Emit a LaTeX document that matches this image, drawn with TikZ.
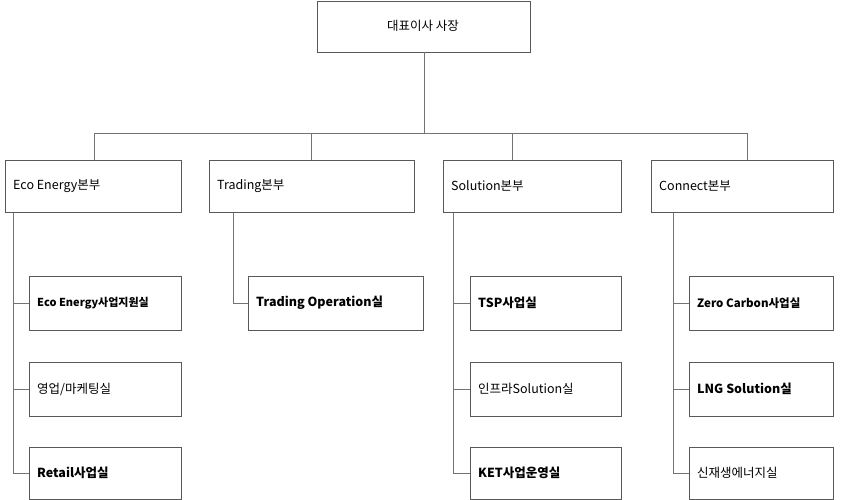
\documentclass[tikz,border=0pt]{standalone}
\usepackage{fontspec}
\setmainfont{Noto Sans CJK KR}
\begin{document}
\begin{tikzpicture}[x=1pt,y=-1pt,
  box/.style={draw=black!65,line width=0.5pt,fill=white},
  lbl/.style={anchor=west,font=\fontsize{12.5}{14}\selectfont,inner sep=0},
  con/.style={draw=black!55,line width=0.7pt}]
\useasboundingbox (0,0) rectangle (844,500);
\newcommand\bx[6]{\draw[box] (#2,#3) rectangle (#4,#5); \node[lbl] (#1) at (#2+8,{(#3+#5)/2}) {#6};}
\bx{top}{317}{1}{530}{52}{}
\node[font=\fontsize{12.5}{14}\selectfont] (topt) at (423,26) {대표이사 사장};
\coordinate (tb) at (424,52); \coordinate (hb) at (424,133);
\draw[con] (tb) -- (hb);
\draw[con] (94,160) -- (94,133) -- (747,133) -- (747,160);
\draw[con] (311,133) -- (311,160); \draw[con] (512,133) -- (512,160);
\draw[con] (13,212) -- (13,473) -- (29,473);
\draw[con] (13,303) -- (29,303); \draw[con] (13,389) -- (29,389);
\draw[con] (233,212) -- (233,303) -- (248,303);
\foreach \a/\b in {453/470,673/689}{
  \draw[con] (\a,212) -- (\a,473) -- (\b,473);
  \draw[con] (\a,303) -- (\b,303); \draw[con] (\a,389) -- (\b,389);}
\bx{e}{5}{160}{181}{212}{Eco Energy본부}
\bx{t}{209}{160}{414}{212}{Trading본부}
\bx{s}{443}{160}{621}{212}{Solution본부}
\bx{c}{651}{160}{833}{212}{Connect본부}
\bx{e1}{29}{276}{181}{330}{{\bfseries\fontsize{11}{13}\selectfont Eco Energy사업지원실}}
\bx{e2}{29}{362}{181}{416}{영업/마케팅실}
\bx{e3}{29}{447}{181}{499}{{\bfseries Retail사업실}}
\bx{t1}{248}{276}{423}{330}{{\bfseries Trading Operation실}}
\bx{s1}{470}{276}{621}{330}{{\bfseries TSP사업실}}
\bx{s2}{470}{362}{621}{416}{인프라Solution실}
\bx{s3}{470}{447}{621}{499}{{\bfseries KET사업운영실}}
\bx{c1}{689}{276}{833}{330}{{\bfseries\fontsize{11.5}{13}\selectfont Zero Carbon사업실}}
\bx{c2}{689}{362}{833}{416}{{\bfseries LNG Solution실}}
\bx{c3}{689}{447}{833}{499}{신재생에너지실}
\end{tikzpicture}
\end{document}
